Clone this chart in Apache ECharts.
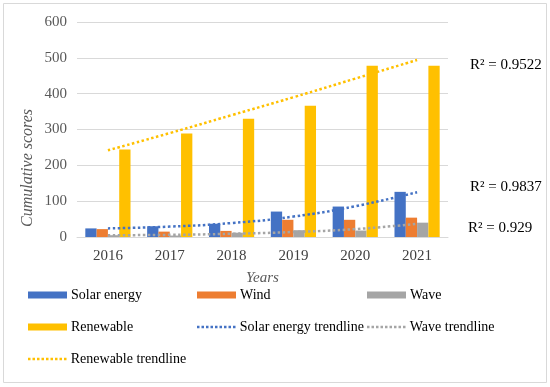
<!DOCTYPE html>
<html><head><meta charset="utf-8">
<script src="https://cdn.jsdelivr.net/npm/echarts@6/dist/echarts.min.js"></script>
<style>html,body{margin:0;padding:0;background:#fff}#c{width:550px;height:387px}</style>
</head><body><div id="c"></div>
<script>
const years = ['2016','2017','2018','2019','2020','2021'];
const solar = [24, 30, 37, 71, 85, 126];
const wind = [22, 15, 17, 48, 48, 54];
const wave = [5, 4, 12, 19, 18, 40];
const renewable = [244, 289, 330, 366, 478, 478];
const solarTrend = [24, 29, 39, 57, 86, 125];
const waveTrend = [5, 6, 9, 14, 22, 37];
const renewableTrend = [242, 290, 340, 390, 442, 494];
const r2Labels = ['R² = 0.9522', 'R² = 0.9837', 'R² = 0.929'];

const font = 'Liberation Serif';
const chart = echarts.init(document.getElementById('c'));
const barW = 11.3;

let dots = '';
for (let i = 0; i < 9; i++) dots += 'M' + (i * 4.5) + ',0h2.5v2.5h-' + 2.5 + 'z';
const dotIcon = 'path://' + dots;

const legends = [
  {name:'Solar energy', l:28, t:288},
  {name:'Wind', l:197, t:288},
  {name:'Wave', l:367, t:288},
  {name:'Renewable', l:28, t:320},
  {name:'Solar energy trendline', l:197, t:320, line:true},
  {name:'Wave trendline', l:367, t:320, line:true},
  {name:'Renewable trendline', l:28, t:352, line:true}
].map(o => ({
  data: [o.line ? {name: o.name, icon: dotIcon} : {name: o.name, icon: 'rect'}],
  left: o.l, top: o.t, itemWidth: 39, itemHeight: o.line ? 2.5 : 7, itemGap: 0, padding: [0,0,0,0],
  textStyle: {fontFamily: font, fontSize: 14, color: '#000', padding: [0,0,0,-1]},
  selectedMode: false
}));

function barSeries(name, data, color) {
  return {name, type: 'bar', data, barWidth: barW, barGap: '0%', itemStyle: {color}, z: 2};
}
function trend(name, data, color) {
  return {name, type: 'line', data, symbol: 'none', smooth: true, z: 5,
    lineStyle: {color, width: 2.5, type: [2.5, 2.5]}, itemStyle: {color}};
}

chart.setOption({
  animation: false,
  textStyle: {fontFamily: font},
  legend: legends,
  grid: {left: 77, right: 102, top: 22, bottom: 150},
  xAxis: {
    type: 'category', data: years,
    axisLine: {lineStyle: {color: '#d9d9d9', width: 1}},
    axisTick: {show: false},
    axisLabel: {fontFamily: font, fontSize: 15, color: '#404040', margin: 12},
    name: 'Years', nameLocation: 'middle', nameGap: 34,
    nameTextStyle: {fontFamily: font, fontSize: 15, fontStyle: 'italic', color: '#595959'}
  },
  yAxis: {
    type: 'value', min: 0, max: 600, interval: 100,
    axisLine: {show: false}, axisTick: {show: false},
    splitLine: {lineStyle: {color: '#d9d9d9', width: 1}},
    axisLabel: {fontFamily: font, fontSize: 15, color: '#595959', margin: 10}
  },
  series: [
    barSeries('Solar energy', solar, '#4472c4'),
    barSeries('Wind', wind, '#ed7d31'),
    barSeries('Wave', wave, '#a5a5a5'),
    barSeries('Renewable', renewable, '#ffc000'),
    trend('Solar energy trendline', solarTrend, '#4472c4'),
    trend('Wave trendline', waveTrend, '#a5a5a5'),
    trend('Renewable trendline', renewableTrend, '#ffc000')
  ],
  graphic: [
    {type: 'rect', shape: {x: 3.5, y: 3.5, width: 543, height: 379}, style: {fill: 'none', stroke: '#d9d9d9', lineWidth: 1}, silent: true, z: -1},
    {type: 'text', x: 28, y: 168, rotation: Math.PI / 2,
      style: {text: 'Cumulative scores', font: 'italic 16px "Liberation Serif"', fill: '#595959', align: 'center', verticalAlign: 'middle'}},
    {type: 'text', left: 470, top: 58, style: {text: r2Labels[0], font: '15px "Liberation Serif"', fill: '#000'}},
    {type: 'text', left: 470, top: 180, style: {text: r2Labels[1], font: '15px "Liberation Serif"', fill: '#000'}},
    {type: 'text', left: 468, top: 221, style: {text: r2Labels[2], font: '15px "Liberation Serif"', fill: '#000'}}
  ]
});
</script></body></html>
